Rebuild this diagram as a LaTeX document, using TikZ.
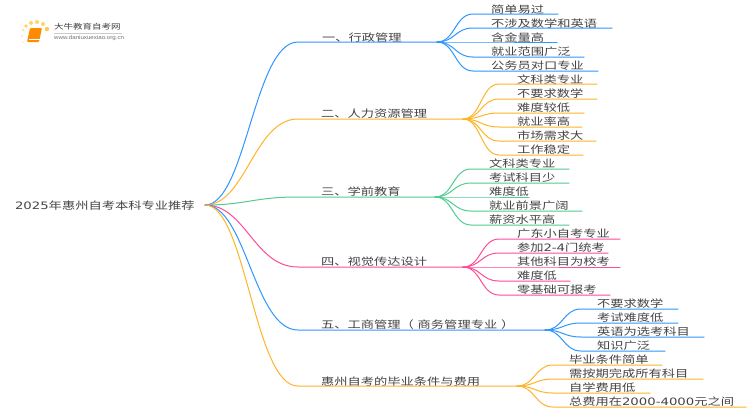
\documentclass[tikz,border=0pt]{standalone}
\usepackage{fontspec}
\setmainfont{Noto Sans CJK SC}
\newfontfamily\logolatin{Liberation Sans}
\newfontfamily\digitfont{DejaVu Sans}
\definecolor{cblue}{HTML}{2E96FF}
\definecolor{corange}{HTML}{FFB428}
\definecolor{cgreen}{HTML}{52CC90}
\definecolor{cpink}{HTML}{FF4B98}
\definecolor{ctext}{HTML}{444444}
\tikzset{
  label/.style={anchor=west,inner sep=0pt,outer sep=0pt,yshift=-1pt,text=ctext,font=\fontsize{10.2}{11}\selectfont},
  branchline/.style={line width=1pt,line cap=round},
}
\newcommand{\wide}[1]{\scalebox{1.3}[1]{#1}}
\newcommand{\dg}[1]{{\digitfont #1}}
% name, colour, junction name, text x, text y, line y, line end x, text
\newcommand{\leaf}[8]{%
  \node[label] (t#1) at (#4,#5) {\wide{#8}};
  \coordinate (e#1) at (#7,#6);
  \path let \p1=(#3) in coordinate (b#1) at (\x1+36pt,#6*-1pt);
  \draw[branchline,#2] (#3) .. controls ($(#3)+(18pt,0)$) and ($(b#1)+(-18pt,0)$) .. (b#1) -- (e#1);
}
% name, colour, text x, text y, line y, junction x, text
\newcommand{\mainbranch}[7]{%
  \node[label] (t#1) at (#3,#4) {\wide{#7}};
  \coordinate (j#1) at (#6,#5);
  \coordinate (m#1) at (298,#5);
  \draw[branchline,#2] (root) .. controls (246,205) and (254,#5) .. (m#1) -- (j#1);
}
\usetikzlibrary{calc}
\begin{document}
\begin{tikzpicture}[x=1pt,y=-1pt]
\useasboundingbox (0,0) rectangle (750,410);
\fill[white] (0,0) rectangle (750,410);
% logo
\foreach \n/\a/\b/\r/\c in {a/26/26/1.9/FFD466,b/31/23/2/FFD466,c/37/22/2/FFD466,d/43/24/2/FFD466,e/47/29/2.2/FFC94D,f/23/30/1.4/FFE5A0,g/22/36/1.2/FFE5A0,h/23/42/1/FFEFC4}{
  \definecolor{dc}{HTML}{\c}
  \fill[dc] (\a,\b) circle (\r);
}
\fill[rounded corners=1pt,fill=orange!90!yellow] (30,28) -- (42,28) -- (39,42) -- (27,42) -- cycle;
\draw[white,line width=.5pt] (29,39.5) -- (39.5,39.5);
\node[anchor=west,inner sep=0pt,text=black!75,font=\fontsize{7.3}{8}\selectfont] (logotitle) at (54,27) {\scalebox{1.3}[1]{大牛教育自考网}};
\node[anchor=west,inner sep=0pt,text=black!55,font=\logolatin\fontsize{5.5}{6}\selectfont] (logourl) at (54,38) {\scalebox{1.12}[1]{www.daniuxuexiao.org.cn}};
\draw[black!20,line width=.5pt] (54,33) -- (122,33);
% root
\node[label] (title) at (15,205) {\wide{\dg{2025}年惠州自考本科专业推荐}};
\coordinate (root) at (205,205);
% main branches
\mainbranch{a}{cblue}{322}{37}{42}{437}{一、行政管理}
\mainbranch{b}{corange}{321}{113}{119}{463}{二、人力资源管理}
\mainbranch{c}{cgreen}{321}{191}{197}{435}{三、学前教育}
\mainbranch{d}{cpink}{321}{261}{267}{463}{四、视觉传达设计}
\mainbranch{e}{cblue}{321}{324}{330}{545}{五、工商管理（\kern3pt 商务管理专业\kern3pt ）}
\mainbranch{f}{corange}{321}{381}{386}{517}{惠州自考的毕业条件与费用}
% leaves 1
\leaf{a1}{cblue}{ja}{491}{9}{14}{558}{简单易过}
\leaf{a2}{cblue}{ja}{491}{23}{28}{612}{不涉及数学和英语}
\leaf{a3}{cblue}{ja}{491}{37}{42}{557}{含金量高}
\leaf{a4}{cblue}{ja}{491}{51}{57}{584}{就业范围广泛}
\leaf{a5}{cblue}{ja}{491}{65}{71}{598}{公务员对口专业}
% leaves 2
\leaf{b1}{corange}{jb}{517}{79}{84}{597}{文科类专业}
\leaf{b2}{corange}{jb}{517}{93}{99}{597}{不要求数学}
\leaf{b3}{corange}{jb}{517}{107}{113}{584}{难度较低}
\leaf{b4}{corange}{jb}{517}{121}{127}{582}{就业率高}
\leaf{b5}{corange}{jb}{517}{135}{141}{596}{市场需求大}
\leaf{b6}{corange}{jb}{517}{149}{155}{583}{工作稳定}
% leaves 3
\leaf{c1}{cgreen}{jc}{489}{163}{169}{569}{文科类专业}
\leaf{c2}{cgreen}{jc}{489}{177}{183}{569}{考试科目少}
\leaf{c3}{cgreen}{jc}{489}{191}{197}{529}{难度低}
\leaf{c4}{cgreen}{jc}{489}{205}{211}{582}{就业前景广阔}
\leaf{c5}{cgreen}{jc}{489}{219}{225}{569}{薪资水平高}
% leaves 4
\leaf{d1}{cpink}{jd}{517}{233}{239}{620}{广东小自考专业}
\leaf{d2}{cpink}{jd}{517}{247}{253}{608}{参加\dg{2-4}门统考}
\leaf{d3}{cpink}{jd}{517}{261}{267}{620}{其他科目为校考}
\leaf{d4}{cpink}{jd}{517}{275}{281}{570}{难度低}
\leaf{d5}{cpink}{jd}{517}{289}{295}{610}{零基础可报考}
% leaves 5
\leaf{e1}{cblue}{je}{597}{303}{309}{678}{不要求数学}
\leaf{e2}{cblue}{je}{597}{317}{323}{678}{考试难度低}
\leaf{e3}{cblue}{je}{597}{331}{337}{704}{英语为选考科目}
\leaf{e4}{cblue}{je}{597}{345}{351}{665}{知识广泛}
% leaves 6
\leaf{f1}{corange}{jf}{569}{359}{365}{662}{毕业条件简单}
\leaf{f2}{corange}{jf}{569}{373}{379}{703}{需按期完成所有科目}
\leaf{f3}{corange}{jf}{569}{387}{393}{650}{自学费用低}
\leaf{f4}{corange}{jf}{569}{401}{407}{746}{总费用在\dg{2000-4000}元之间}
\end{tikzpicture}
\end{document}
